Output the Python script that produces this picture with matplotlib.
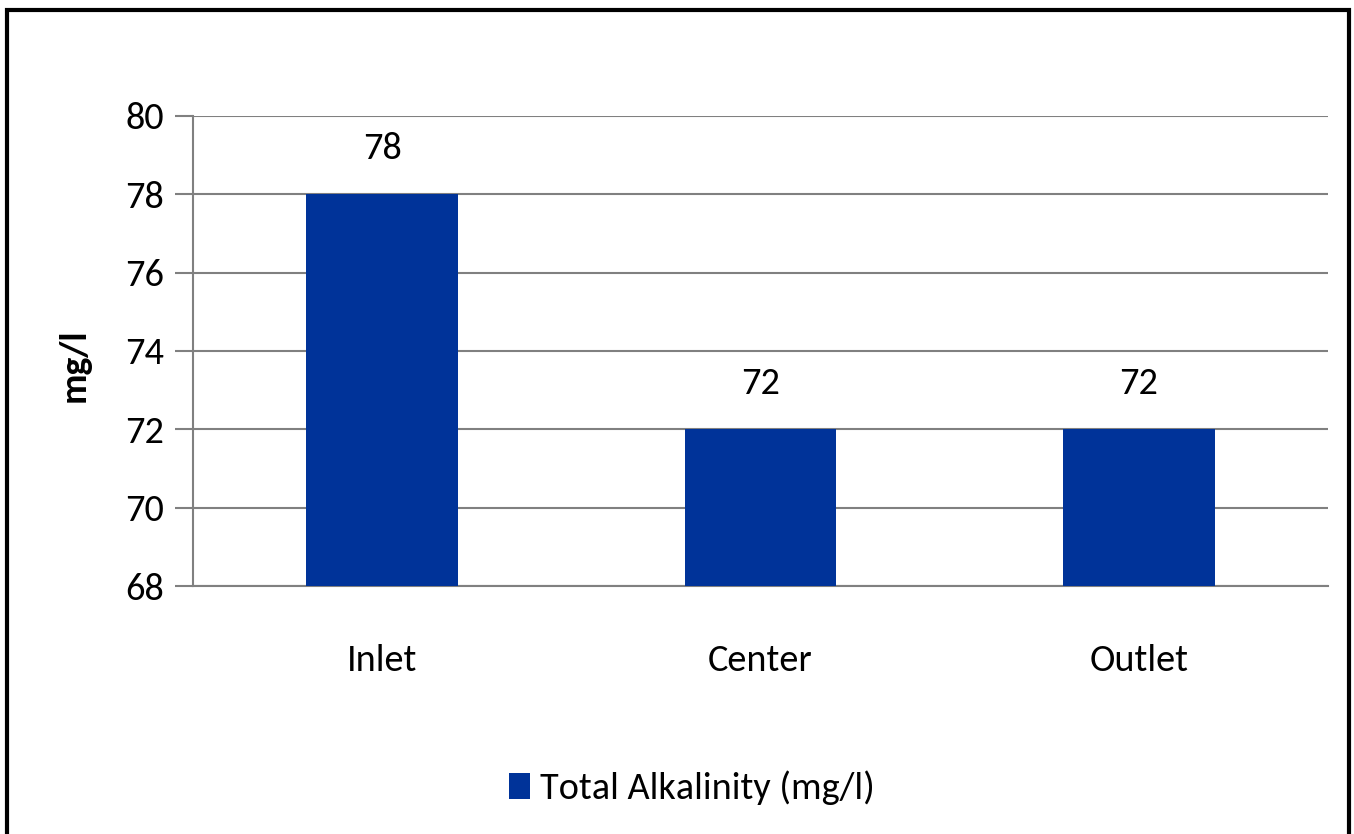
import matplotlib
matplotlib.use("Agg")
import matplotlib.pyplot as plt
from matplotlib import font_manager
from matplotlib.patches import Rectangle

categories = ["Inlet", "Center", "Outlet"]
values = [78, 72, 72]
series_name = "Total Alkalinity (mg/l)"
yticks = [68, 70, 72, 74, 76, 78, 80]

names = {f.name for f in font_manager.fontManager.ttflist}
if "Carlito" in names:
    fam, stretch = "Carlito", "normal"
else:
    fam, stretch = "Open Sans", "condensed"
plt.rcParams["font.family"] = [fam, "DejaVu Sans"]
plt.rcParams["font.stretch"] = stretch

W, H = 1354, 834
fig = plt.figure(figsize=(W / 100, H / 100), dpi=100)
ax = fig.add_axes([193 / W, 1 - 586 / H, (1328 - 193) / W, (586 - 116) / H])

FS = 27.5
color = "#003399"
x = list(range(len(categories)))
bars = ax.bar(x, values, width=0.4, color=color, zorder=3, label=series_name)
ax.set_xlim(-0.5, len(categories) - 0.5)
ax.set_ylim(68, 80)
ax.set_yticks(yticks)
ax.set_yticklabels([str(v) for v in yticks], fontsize=FS)
ax.set_xticks(x)
ax.set_xticklabels(categories, fontsize=FS)
ax.tick_params(axis="x", length=0, pad=42)
ax.tick_params(axis="y", length=13, width=1.5, color="#808080", pad=8)
ax.grid(axis="y", color="#808080", linewidth=1.5, zorder=0)
for s in ["top", "right"]:
    ax.spines[s].set_visible(False)
for s in ["left", "bottom"]:
    ax.spines[s].set_color("#808080")
    ax.spines[s].set_linewidth(1.5)

for xi, v in zip(x, values):
    ax.annotate(str(v), (xi, v), xytext=(0, 21), textcoords="offset points",
                ha="center", va="bottom", fontsize=FS)

ax.set_ylabel("mg/l", fontsize=27, fontweight="bold")
ax.yaxis.set_label_coords(-102 / (1328 - 193), 0.47)

leg = fig.legend(handles=[bars], labels=[series_name], loc="center",
                 bbox_to_anchor=(692 / W, 1 - 788 / H), frameon=False,
                 fontsize=FS, handlelength=0.55, handleheight=0.7, handletextpad=0.25)

fig.patches.append(Rectangle((7 / W, -0.1), (1349 - 7) / W, 1.1 - 10 / H,
                             transform=fig.transFigure, fill=False,
                             edgecolor="black", linewidth=3))

fig.savefig("out.png", dpi=100)
